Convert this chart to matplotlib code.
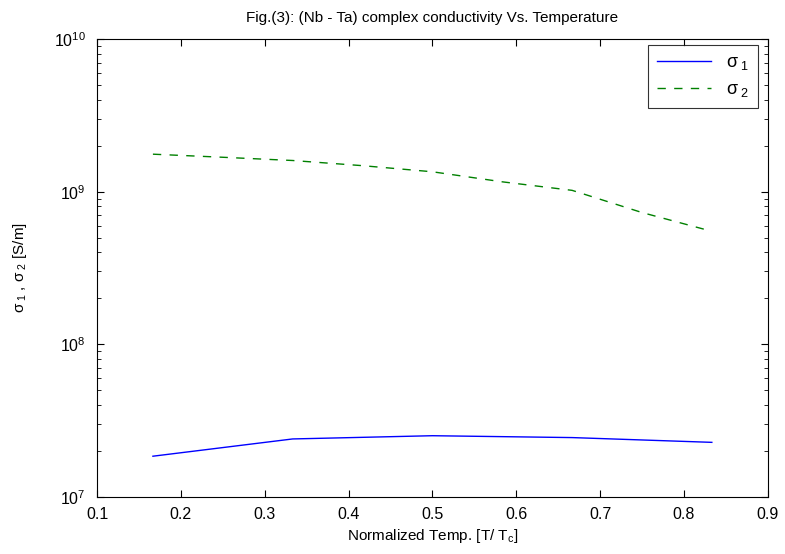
import numpy as np
import matplotlib
matplotlib.use('Agg')
import matplotlib.pyplot as plt
from matplotlib.ticker import LogLocator, FixedLocator

# dane
t_norm = [1/6, 2/6, 3/6, 4/6, 5/6]
sigma1 = [1.85e7, 2.4e7, 2.52e7, 2.45e7, 2.28e7]

t_norm2 = [1/6, 3/12, 2/6, 5/12, 3/6, 7/12, 4/6, 9/12, 5/6]
sigma2 = [1.76e9, 1.68e9, 1.60e9, 1.48e9, 1.35e9, 1.16e9, 1.02e9, 7.3e8, 5.5e8]

x_ticks = [0.1, 0.2, 0.3, 0.4, 0.5, 0.6, 0.7, 0.8, 0.9]

plt.rcParams['font.family'] = ['Liberation Sans', 'DejaVu Sans']
plt.rcParams['mathtext.fontset'] = 'custom'
plt.rcParams['mathtext.rm'] = 'Liberation Sans'
plt.rcParams['mathtext.it'] = 'Liberation Sans'

fig = plt.figure(figsize=(7.85, 5.54), dpi=100)
ax = fig.add_axes([0.1236, 0.1029, 0.8544, 0.8267])

ax.semilogy(t_norm, sigma1, color='blue', linestyle='-', linewidth=1.0,
            label=r'$\sigma_{\ 1}$')
ax.semilogy(t_norm2, sigma2, color='#008000', linestyle=(0, (6, 6)), linewidth=1.0,
            label=r'$\sigma_{\ 2}$')

ax.set_xlim(0.1, 0.9)
ax.set_ylim(1e7, 1e10)
ax.xaxis.set_major_locator(FixedLocator(x_ticks))
ax.set_xticklabels(['%.1f' % v for v in x_ticks])
ax.yaxis.set_major_locator(LogLocator(base=10, numticks=10))
ax.yaxis.set_minor_locator(LogLocator(base=10, subs=np.arange(2, 10), numticks=20))
ax.tick_params(which='both', direction='in', top=True, right=True, labelsize=11.5)
ax.tick_params(which='major', length=5)
ax.tick_params(which='minor', length=3)
ax.tick_params(axis='x', pad=7)
ax.tick_params(axis='y', pad=8)
for s in ax.spines.values():
    s.set_linewidth(0.8)

ax.set_title('Fig.(3): (Nb - Ta) complex conductivity Vs. Temperature', fontsize=11, pad=12)
ax.set_xlabel(r'Normalized Temp. [T/ T$_{\rm c}$]', fontsize=11, labelpad=4)
ax.set_ylabel(r'$\sigma_{\ 1}$ , $\sigma_{\ 2}$ [S/m]', fontsize=11, labelpad=18)

leg = ax.legend(loc='upper right', fancybox=False, edgecolor='black', fontsize=13,
                handlelength=3.0, borderpad=0.5, labelspacing=0.5,
                borderaxespad=0, bbox_to_anchor=(0.985, 0.987))
leg.get_frame().set_linewidth(0.8)

fig.savefig('out.png', dpi=100)
